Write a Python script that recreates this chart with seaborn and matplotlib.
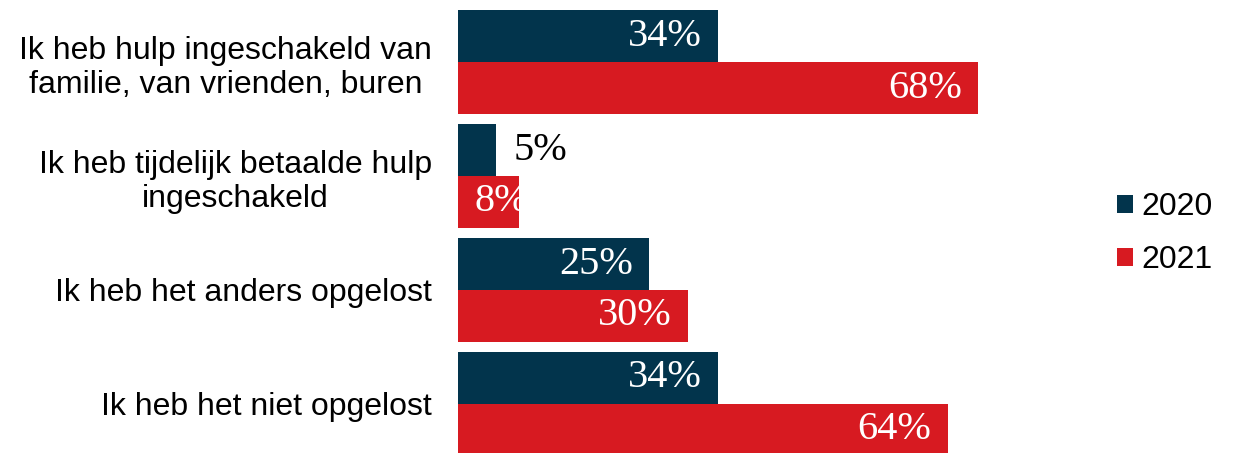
import matplotlib
matplotlib.use("Agg")
import matplotlib.pyplot as plt
import seaborn as sns
import pandas as pd
from matplotlib.patches import Patch

categories = [
    "Ik heb hulp ingeschakeld van\nfamilie, van vrienden, buren",
    "Ik heb tijdelijk betaalde hulp\ningeschakeld",
    "Ik heb het anders opgelost",
    "Ik heb het niet opgelost",
]
years = ["2020", "2021"]
values_2020 = [34, 5, 25, 34]
values_2021 = [68, 8, 30, 64]
colors = {"2020": "#02344C", "2021": "#D71A21"}

df = pd.DataFrame({
    "categorie": categories * 2,
    "jaar": ["2020"] * len(categories) + ["2021"] * len(categories),
    "waarde": values_2020 + values_2021,
})

sns.set_style("white")
plt.rcParams["font.family"] = ["Liberation Sans", "DejaVu Sans"]
plt.rcParams["text.color"] = "black"

fig = plt.figure(figsize=(12.35, 4.53), dpi=100)
ax = fig.add_axes([458 / 1235, 0, (1090 - 458) / 1235, 1])

sns.barplot(data=df, y="categorie", x="waarde", hue="jaar", orient="h",
            palette=colors, order=categories, hue_order=years,
            width=0.912, saturation=1, linewidth=0, ax=ax, legend=False)

ax.set_xlim(0, 82.6)
ax.set_ylim(3.43, -0.544)
ax.set_xlabel("")
ax.set_ylabel("")
ax.set_xticks([])
for s in ax.spines.values():
    s.set_visible(False)
ax.tick_params(axis="y", length=0, pad=18.7, labelsize=23)
for t in ax.get_yticklabels():
    t.set_multialignment("center")
    t.set_color("black")

serif = ["Liberation Serif", "DejaVu Serif"]
for container, year in zip(ax.containers, years):
    for bar in container:
        v = bar.get_width()
        yc = bar.get_y() + bar.get_height() / 2
        txt = f"{v:.0f}%"
        if v >= 10:
            ax.text(v - 2.1, yc, txt, ha="right", va="center", color="white",
                    fontsize=29, family=serif)
        elif v < 6:
            ax.text(v + 2.2, yc, txt, ha="left", va="center", color="black",
                    fontsize=29, family=serif)
        else:
            ax.text(2.2, yc, txt, ha="left", va="center", color="white",
                    fontsize=29, family=serif, clip_on=True,
                    clip_box=bar.get_window_extent())

handles = [Patch(facecolor=colors[y], edgecolor="none", label=y) for y in years]
leg = fig.legend(handles=handles, loc="center left",
                 bbox_to_anchor=(1117 / 1235, 1 - 233.5 / 453),
                 frameon=False, fontsize=23, handlelength=0.5, handleheight=0.5,
                 handletextpad=0.25, labelspacing=0.72, borderpad=0,
                 borderaxespad=0)
for t in leg.get_texts():
    t.set_color("black")

fig.savefig("out.png", dpi=100)
